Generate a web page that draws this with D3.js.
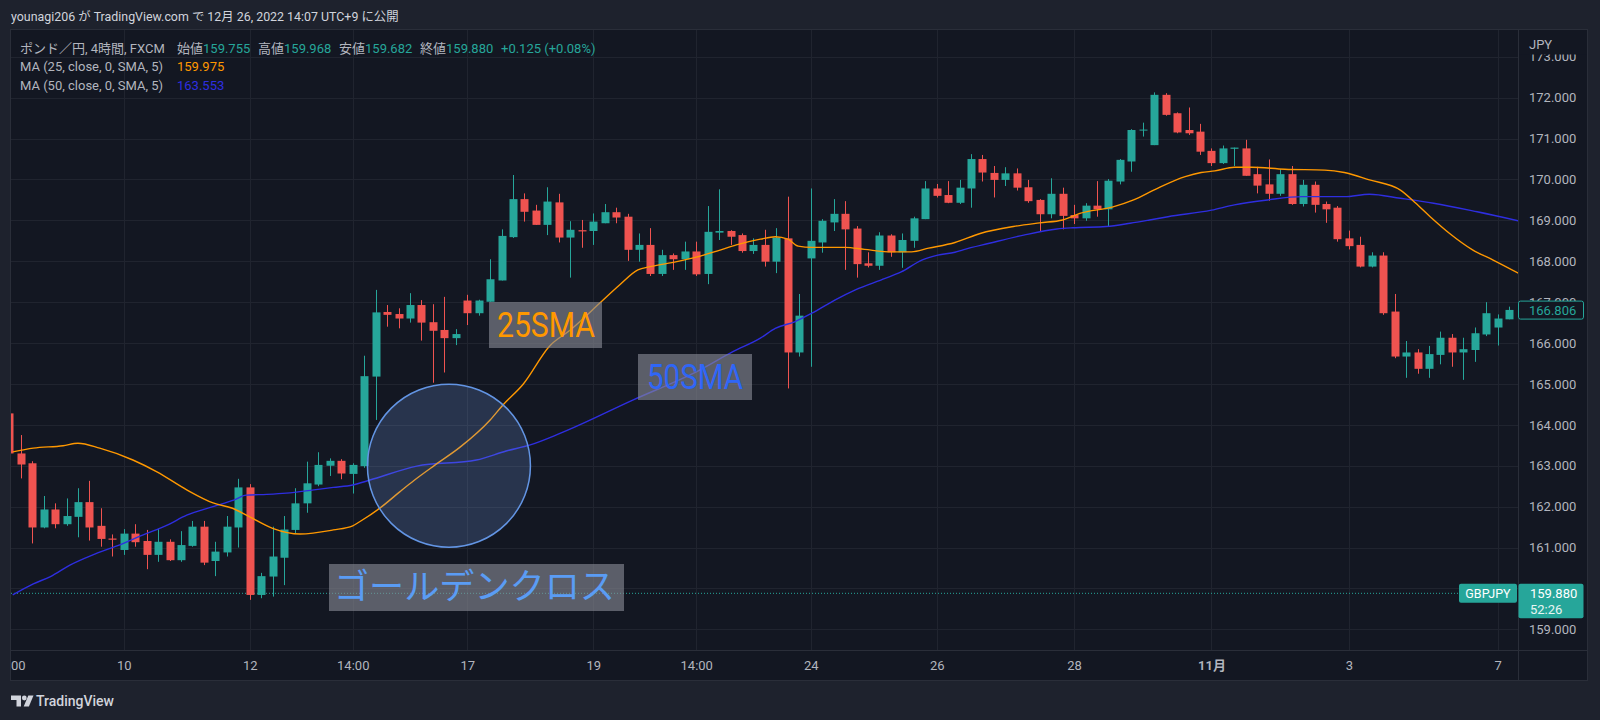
<!DOCTYPE html>
<html><head><meta charset="utf-8">
<script src="https://cdn.jsdelivr.net/npm/d3@7"></script>
<style>
html,body{margin:0;padding:0;background:#1e222d;}
svg{display:block;}
text{font-family:Roboto,"Noto Sans CJK JP",sans-serif;}
</style></head><body>
<svg id="c" width="1600" height="720"></svg>
<script>
// ---------------- DATA ----------------
// bar index of first value = -1 (partially hidden at left edge)
const barOpen  = [164.28,163.30,163.06,161.49,161.93,161.57,161.75,162.11,161.53,161.22,160.94,161.34,161.16,160.82,161.14,160.69,161.04,161.51,160.67,160.88,161.49,162.47,159.84,160.29,160.75,161.43,162.08,162.54,163.00,163.12,162.80,162.99,165.18,166.76,166.71,166.60,166.93,166.51,166.32,166.12,167.04,166.73,167.01,167.53,168.59,169.52,169.24,168.89,169.44,168.58,168.76,168.74,168.93,169.20,169.09,168.28,168.40,167.69,168.15,168.05,168.24,167.69,168.70,168.74,168.64,168.25,168.40,167.99,168.56,165.77,168.07,168.46,168.95,169.16,168.80,167.95,167.89,168.63,168.22,168.50,169.03,169.78,169.62,169.43,169.78,170.50,170.16,169.99,170.15,169.81,169.50,169.15,169.65,169.13,169.05,169.36,169.27,169.95,170.44,171.20,170.84,172.07,171.62,171.21,171.17,170.70,170.40,170.75,170.76,170.13,169.88,169.65,170.13,169.40,169.87,169.40,169.31,168.56,168.40,167.87,168.14,166.77,165.67,165.77,165.37,165.71,166.13,165.77,165.83,166.21,166.38,166.58];
const barHigh  = [164.30,163.75,163.11,162.26,162.08,162.20,162.45,162.63,161.96,161.32,161.45,161.57,161.43,161.45,161.20,161.40,161.65,161.65,161.14,161.77,162.68,162.55,160.38,161.51,161.77,162.45,163.10,163.33,163.18,163.16,163.06,165.69,167.30,166.93,166.85,167.22,167.05,166.95,167.13,166.34,167.18,167.06,168.05,168.78,170.11,169.66,169.38,169.81,169.65,168.98,169.01,169.17,169.40,169.31,169.16,168.68,168.81,168.28,168.19,168.48,168.48,169.35,169.76,168.76,168.68,168.56,168.77,168.81,169.58,167.20,169.78,169.03,169.52,169.47,168.86,168.22,168.71,168.66,168.68,169.09,169.96,169.89,169.96,169.99,170.62,170.60,170.33,170.30,170.27,169.99,169.52,170.03,169.80,169.38,169.42,169.96,170.01,170.50,171.23,171.39,172.13,172.11,171.64,171.76,171.36,170.76,170.83,170.78,170.97,170.31,170.49,170.25,170.33,169.99,169.95,169.46,169.35,168.75,168.60,168.22,168.22,167.20,166.05,165.85,165.93,166.28,166.22,166.13,166.38,167.00,166.70,166.89];
const barLow   = [163.30,162.69,161.10,161.47,161.47,161.53,161.25,161.17,161.02,160.78,160.82,161.02,160.47,160.65,160.67,160.65,161.02,160.57,160.30,160.78,161.00,159.72,159.76,159.80,160.08,161.35,161.85,162.50,162.75,162.67,162.32,162.95,164.12,166.40,166.36,166.50,166.06,165.03,165.28,165.95,166.44,166.67,167.01,167.53,168.57,168.97,168.89,168.64,168.46,167.60,168.33,168.40,168.93,168.93,168.01,167.99,167.64,167.64,167.79,167.79,167.64,167.44,168.52,168.40,168.21,168.18,167.87,167.71,164.89,165.67,165.42,168.21,168.74,167.79,167.60,167.85,167.79,168.11,167.84,168.33,169.03,169.56,169.42,169.40,169.31,169.95,169.56,169.84,169.73,169.43,168.74,169.05,168.78,168.91,168.99,169.09,168.86,169.88,170.19,171.05,170.84,171.56,171.13,171.09,170.60,170.33,170.38,170.33,170.09,169.66,169.48,169.60,169.38,169.34,169.19,168.94,168.48,168.29,167.85,167.85,166.69,165.63,165.15,165.25,165.15,165.48,165.42,165.10,165.54,166.17,165.94,166.58];
const barClose = [163.30,163.03,161.49,161.93,161.57,161.77,162.11,161.49,161.21,161.19,161.34,161.13,160.82,161.14,160.69,161.06,161.51,160.63,160.90,161.51,162.47,159.84,160.30,160.78,161.44,162.08,162.57,163.02,163.12,162.81,163.02,165.19,166.75,166.69,166.60,166.93,166.50,166.30,166.12,166.22,166.73,167.04,167.56,168.62,169.52,169.21,168.89,169.46,168.58,168.77,168.73,168.97,169.20,169.07,168.28,168.40,167.69,168.15,168.05,168.24,167.68,168.72,168.74,168.60,168.25,168.40,167.99,168.58,165.77,166.67,168.50,168.99,169.16,168.78,167.93,167.89,168.63,168.22,168.52,169.05,169.78,169.60,169.43,169.80,170.50,170.17,169.99,170.15,169.80,169.47,169.15,169.65,169.11,169.05,169.36,169.27,169.97,170.48,171.21,171.22,172.07,171.58,171.15,171.13,170.68,170.40,170.76,170.78,170.09,169.85,169.65,170.13,169.40,169.87,169.38,169.27,168.54,168.37,167.87,168.14,166.73,165.67,165.77,165.37,165.73,166.13,165.77,165.85,166.24,166.73,166.60,166.81];
const firstIndex = -1;

// moving averages: [bar index, value]
const ma25 = [[-0.7,163.34],[1.1,163.43],[3.7,163.49],[5.0,163.55],[6.9,163.43],[9.8,163.14],[11.9,162.85],[14.5,162.41],[16.8,162.09],[18.5,161.96],[20.0,161.75],[22.0,161.47],[24.4,161.33],[27.3,161.43],[29.0,161.53],[29.6,161.63],[31.4,161.97],[33.1,162.36],[34.4,162.65],[36.2,163.02],[38.4,163.46],[41.0,164.12],[42.1,164.48],[43.9,165.00],[46.2,165.93],[48.0,166.32],[50.7,167.01],[52.3,167.42],[53.9,167.79],[55.0,167.87],[57.3,167.99],[59.0,168.10],[60.8,168.25],[62.5,168.40],[64.6,168.54],[65.9,168.60],[67.0,168.54],[67.9,168.37],[69.1,168.34],[72.0,168.34],[73.7,168.29],[76.1,168.23],[77.8,168.23],[79.3,168.32],[81.6,168.46],[83.8,168.68],[86.7,168.85],[89.0,168.94],[91.0,169.01],[92.5,169.17],[95.4,169.33],[97.2,169.50],[99.1,169.76],[101.7,170.07],[103.1,170.17],[104.3,170.21],[106.0,170.30],[107.5,170.30],[110.4,170.25],[113.9,170.23],[115.6,170.17],[117.8,169.99],[120.5,169.74],[121.8,169.43],[123.1,169.09],[124.8,168.68],[126.8,168.28],[128.6,168.03],[130.8,167.71]];
const ma50 = [[-0.7,159.84],[1.1,160.11],[2.6,160.29],[4.3,160.57],[6.3,160.82],[8.4,161.04],[10.7,161.31],[12.8,161.55],[14.5,161.79],[16.8,162.00],[18.6,162.16],[19.7,162.28],[21.5,162.30],[23.2,162.33],[25.6,162.41],[27.3,162.47],[29.0,162.53],[30.5,162.65],[34.6,162.99],[39.8,163.14],[42.4,163.36],[44.5,163.51],[47.1,163.79],[53.5,164.61],[59.3,165.34],[62.2,165.79],[64.6,166.12],[65.9,166.36],[67.6,166.52],[69.1,166.73],[71.1,167.05],[72.9,167.30],[75.5,167.58],[76.9,167.74],[78.7,168.03],[80.1,168.15],[81.6,168.22],[82.3,168.28],[84.6,168.44],[87.6,168.64],[90.5,168.79],[91.9,168.82],[94.8,168.85],[96.9,168.93],[98.6,169.01],[100.2,169.09],[104.0,169.25],[106.0,169.38],[108.9,169.50],[111.9,169.58],[115.6,169.58],[117.8,169.64],[120.5,169.54],[123.4,169.42],[127.2,169.21],[130.8,168.99]];

const gridPrices = [159,160,161,162,163,164,165,166,167,168,169,170,171,172,173];
const priceTicks = [159,161,162,163,164,165,166,167,168,169,170,171,172,173]; // 160 is fully hidden by the price tag
const timeTickIdx = [9,20,29,39,50,59,69,80,92,104,116,129];
const timeTickLabels = ["10","12","14:00","17","19","14:00","24","26","28","11月","3","7"];

const lastPrice = 159.880, lastVisibleClose = 166.806;
const headerText = "younagi206 が TradingView.com で 12月 26, 2022 14:07 UTC+9 に公開";
const legendTitle = "ポンド／円, 4時間, FXCM";
const legendOHLC = [["始値","159.755"],["高値","159.968"],["安値","159.682"],["終値","159.880"]];
const legendChange = "+0.125 (+0.08%)";
const ma25Legend = ["MA (25, close, 0, SMA, 5)","159.975"];
const ma50Legend = ["MA (50, close, 0, SMA, 5)","163.553"];
const crossCenter = [37.4, 163.00]; // golden cross annotation centre (index, price)

// ---------------- LAYOUT ----------------
const W=1600,H=720;
const P={l:12,r:1518,t:30,b:650};
const UP="#26a69a", DOWN="#ef5350", BG="#131722", OUT="#1e222d", LINE="#2a2e39", GRID="#20242f", TXT="#b2b5be";
const ORANGE="#ff9800", BLUE="#2e2ee0";

const svg=d3.select('#c');
svg.append('rect').attr('width',W).attr('height',H).attr('fill',OUT);
svg.append('rect').attr('x',10.5).attr('y',29.5).attr('width',1577).attr('height',651).attr('fill',BG).attr('stroke',LINE);

const x=d3.scaleLinear().domain([-0.76,130.77]).range([P.l,P.r]);
const y=d3.scaleLinear().domain([159,172]).range([629.3,97.7]);

svg.append('clipPath').attr('id','plotclip').append('rect').attr('x',11).attr('y',30).attr('width',P.r-11).attr('height',P.b-30);

// grid
const grid=svg.append('g').attr('clip-path','url(#plotclip)');
grid.selectAll('line.h').data(gridPrices).enter().append('line')
  .attr('x1',11).attr('x2',P.r).attr('y1',d=>Math.round(y(d))+0.5).attr('y2',d=>Math.round(y(d))+0.5)
  .attr('stroke',GRID).attr('stroke-width',1);
grid.selectAll('line.v').data(timeTickIdx).enter().append('line')
  .attr('y1',30).attr('y2',P.b).attr('x1',d=>Math.round(x(d))+0.5).attr('x2',d=>Math.round(x(d))+0.5)
  .attr('stroke',GRID).attr('stroke-width',1);

// last price dotted line
svg.append('line').attr('x1',11).attr('x2',1459).attr('y1',y(lastPrice)).attr('y2',y(lastPrice))
  .attr('stroke',UP).attr('stroke-width',1).attr('stroke-dasharray','1 2');

// candles
const bars=barOpen.map((o,i)=>({k:i+firstIndex,o,h:barHigh[i],l:barLow[i],c:barClose[i]}));
const cg=svg.append('g').attr('clip-path','url(#plotclip)');
const bw=8;
cg.selectAll('line.w').data(bars).enter().append('line')
  .attr('x1',d=>Math.round(x(d.k))+0.5).attr('x2',d=>Math.round(x(d.k))+0.5)
  .attr('y1',d=>y(d.h)).attr('y2',d=>y(d.l))
  .attr('stroke',d=>d.c>=d.o?UP:DOWN).attr('stroke-width',1);
cg.selectAll('rect.b').data(bars).enter().append('rect')
  .attr('x',d=>Math.round(x(d.k))+0.5-bw/2).attr('width',bw)
  .attr('y',d=>y(Math.max(d.o,d.c)))
  .attr('height',d=>Math.max(1,Math.abs(y(d.o)-y(d.c))))
  .attr('fill',d=>d.c>=d.o?UP:DOWN);

// moving averages
const lineGen=d3.line().x(d=>x(d[0])).y(d=>y(d[1])).curve(d3.curveMonotoneX);
cg.append('path').datum(ma50).attr('d',lineGen).attr('fill','none').attr('stroke',BLUE).attr('stroke-width',1.4);
cg.append('path').datum(ma25).attr('d',lineGen).attr('fill','none').attr('stroke',ORANGE).attr('stroke-width',1.4);

// golden cross circle
svg.append('circle').attr('cx',x(crossCenter[0])).attr('cy',y(crossCenter[1])).attr('r',81.5)
  .attr('fill','rgba(120,160,230,0.22)').attr('stroke','#6395e4').attr('stroke-width',1.5);

// annotation boxes
const BOXF='rgba(135,138,148,0.62)';
function note(x0,y0,w,h,txt,col,fs,tx,ty,tl,fam){
  svg.append('rect').attr('x',x0).attr('y',y0).attr('width',w).attr('height',h).attr('fill',BOXF);
  svg.append('text').attr('x',tx).attr('y',ty).attr('fill',col).attr('font-size',fs)
    .attr('textLength',tl).attr('lengthAdjust','spacingAndGlyphs')
    .style('font-family',fam).text(txt);
}
note(489,302,113,46,'25SMA',ORANGE,35,497,337,98,'Roboto, sans-serif');
note(638,354,114,46,'50SMA','#2f66f7',35,647,388.5,96,'Roboto, sans-serif');
note(329,564,295,47,'ゴールデンクロス','#5a9cf4',35,334,599,281,'"Noto Sans CJK JP", sans-serif');

// frame separators
svg.append('line').attr('x1',P.r+0.5).attr('x2',P.r+0.5).attr('y1',30).attr('y2',680).attr('stroke',LINE);
svg.append('line').attr('x1',10).attr('x2',1588).attr('y1',P.b+0.5).attr('y2',P.b+0.5).attr('stroke',LINE);

// price axis
const yAxis=svg.append('g').attr('transform',`translate(${P.r},0)`)
  .call(d3.axisRight(y).tickValues(priceTicks).tickSize(0).tickPadding(11).tickFormat(d3.format('.3f')));
yAxis.select('.domain').remove();
yAxis.selectAll('text').attr('fill',TXT).attr('font-size',13).style('font-family','Roboto, sans-serif');

// currency label area (covers the top half of the 173.000 label, as in TradingView)
svg.append('rect').attr('x',P.r+1).attr('y',30).attr('width',68).attr('height',24.5).attr('fill',BG);
svg.append('text').attr('x',1529).attr('y',49).attr('fill',TXT).attr('font-size',13).text('JPY');

// time axis
const xAxis=svg.append('g').attr('transform',`translate(0,${P.b})`)
  .call(d3.axisBottom(x).tickValues(timeTickIdx).tickSize(0).tickPadding(11).tickFormat((d,i)=>timeTickLabels[i]));
xAxis.select('.domain').remove();
xAxis.selectAll('text').attr('fill',TXT).attr('font-size',13)
  .attr('font-weight',(d,i)=>timeTickLabels[i]==='11月'?600:400);
svg.append('text').attr('x',11).attr('y',P.b+11).attr('dy','0.71em').attr('fill',TXT).attr('font-size',13).text('00');

// last visible close label (outlined)
const yc=y(lastVisibleClose);
svg.append('rect').attr('x',P.r+0.5).attr('y',yc-9).attr('width',65).attr('height',18).attr('rx',2)
  .attr('fill',BG).attr('stroke',UP).attr('stroke-width',1);
svg.append('text').attr('x',1529).attr('y',yc).attr('dy','0.35em').attr('fill',UP).attr('font-size',13).text(d3.format('.3f')(lastVisibleClose));

// current price labels
const yp=y(lastPrice);
svg.append('rect').attr('x',1459).attr('y',yp-9.5).attr('width',58).attr('height',19).attr('rx',2).attr('fill',UP);
svg.append('text').attr('x',1488).attr('y',yp).attr('dy','0.35em').attr('text-anchor','middle').attr('fill','#ffffff').attr('font-size',12.5).text('GBPJPY');
svg.append('rect').attr('x',P.r+0.5).attr('y',yp-9.5).attr('width',65).attr('height',34.5).attr('rx',2).attr('fill',UP);
svg.append('text').attr('x',1530).attr('y',yp).attr('dy','0.35em').attr('fill','#ffffff').attr('font-size',13).text(d3.format('.3f')(lastPrice));
svg.append('text').attr('x',1530).attr('y',yp+16).attr('dy','0.35em').attr('fill','#e8f5f3').attr('font-size',13).text('52:26');

// header
svg.append('text').attr('x',11).attr('y',21).attr('fill','#d1d4dc').attr('font-size',12.4).text(headerText);

// legend
const l1=svg.append('text').attr('y',52.5).attr('font-size',13);
l1.append('tspan').attr('x',20).attr('fill',TXT).text(legendTitle);
const ox=[177,258,339,420];
legendOHLC.forEach((p,i)=>{
  l1.append('tspan').attr('x',ox[i]).attr('fill',TXT).text(p[0]);
  l1.append('tspan').attr('fill',UP).text(p[1]);
});
l1.append('tspan').attr('x',501).attr('fill',UP).text(legendChange);
const l2=svg.append('text').attr('y',71).attr('font-size',13);
l2.append('tspan').attr('x',20).attr('fill',TXT).text(ma25Legend[0]);
l2.append('tspan').attr('x',177).attr('fill',ORANGE).text(ma25Legend[1]);
const l3=svg.append('text').attr('y',89.5).attr('font-size',13);
l3.append('tspan').attr('x',20).attr('fill',TXT).text(ma50Legend[0]);
l3.append('tspan').attr('x',177).attr('fill',BLUE).text(ma50Legend[1]);

// TradingView logo
const lg=svg.append('g').attr('fill','#d1d4dc');
lg.append('path').attr('d','M11,695.5 h10 v11 h-4.5 v-6.5 h-5.5 z');
lg.append('circle').attr('cx',24.3).attr('cy',698).attr('r',2.4);
lg.append('path').attr('d','M28.3,695.5 h5.2 l-4.6 11 h-5.2 z');
svg.append('text').attr('x',36).attr('y',706).attr('fill','#d1d4dc').attr('font-size',14).attr('font-weight',500).text('TradingView');
</script>
</body></html>
